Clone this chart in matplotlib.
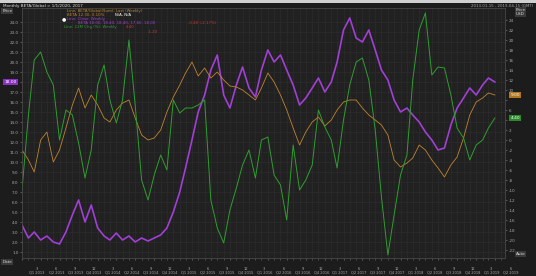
import pandas as pd
import matplotlib
matplotlib.use("Agg")
import matplotlib.pyplot as plt
import matplotlib.dates as mdates

# monthly observations, Jan 2013 .. Apr 2019
dates = pd.date_range("2013-01-01", periods=76, freq="MS")

price = [3.7, 2.4, 3.0, 2.2, 2.6, 2.0, 1.8, 3.0, 4.7, 6.2, 4.0, 5.7, 3.4, 2.6, 2.2, 2.9,
         2.2, 2.6, 2.0, 2.4, 2.1, 2.4, 2.7, 3.4, 5.0, 7.0, 9.4, 12.2, 15.0, 16.7, 19.2, 20.7,
         16.7, 15.4, 17.7, 19.5, 17.4, 16.5, 19.2, 21.2, 20.0, 20.7, 19.2, 17.7, 15.7, 16.4,
         17.4, 18.4, 17.0, 18.0, 20.0, 23.2, 24.4, 22.4, 22.0, 23.2, 21.2, 19.2, 18.2, 16.2,
         15.0, 15.4, 14.7, 14.0, 13.0, 12.2, 11.2, 11.4, 13.7, 15.4, 16.4, 17.4, 16.7, 17.7,
         18.4, 18.0]

beta_avg = [-2.0, -4.0, -6.4, 0.0, 1.6, -4.4, -2.0, 2.4, 7.0, 10.4, 6.4, 9.0, 7.0, 4.4, 3.6, 6.0,
            7.4, 8.0, 4.4, 1.0, 0.0, 0.4, 2.0, 5.6, 8.6, 11.0, 13.4, 15.6, 12.8, 14.4, 12.4, 13.6,
            12.0, 10.8, 10.6, 10.0, 9.0, 8.0, 10.4, 13.4, 11.6, 9.0, 6.0, 2.4, -1.0, 1.6, 3.6, 4.6,
            2.8, 4.0, 6.0, 7.6, 8.0, 8.0, 6.4, 5.0, 4.0, 3.0, 1.0, -4.0, -5.4, -4.6, -3.6, -1.0,
            -2.0, -4.0, -5.6, -7.4, -5.0, -3.4, 0.4, 5.0, 7.6, 8.4, 9.4, 9.0]

beta_chg = [-10.0, 5.0, 16.0, 17.6, 13.6, 11.0, 0.0, 6.0, 5.0, -0.6, -7.6, -2.0, 11.0, 15.0, 8.0, 3.4,
            8.0, 20.0, 7.0, -8.0, -12.0, -7.0, -3.0, -6.0, 8.0, 5.4, 6.4, 6.4, 7.0, 8.0, -12.0, -17.6,
            -20.6, -14.0, -9.6, -5.0, -2.0, -7.6, 0.0, 0.6, -7.0, -9.0, -16.0, -1.0, -10.0, -8.0, -5.0, 6.0,
            2.6, 0.0, -5.6, 4.0, 11.0, 15.6, 16.4, 12.0, 2.0, -11.4, -23.0, -15.0, -7.0, -3.0, 12.0, 22.0,
            25.4, 13.0, 14.6, 14.4, 9.0, 2.4, 0.4, -4.0, -1.0, 0.0, 2.4, 4.4]

PURPLE = "#a23fd6"
ORANGE = "#c0842c"
GREEN = "#2f9e2f"
BG = "#1c1c1c"
PANEL = "#212121"
GRID = "#353535"
TXT = "#a8a8a8"

fig = plt.figure(figsize=(5.36, 2.76), dpi=100, facecolor=BG)
ax = fig.add_axes([22 / 536, 18 / 276, 483 / 536, 250 / 276])
ax.set_facecolor(PANEL)
ax2 = ax.twinx()

ax.plot(dates, price, color=PURPLE, lw=1.2, zorder=3)
ax2.plot(dates, beta_avg, color=ORANGE, lw=0.6)
ax2.plot(dates, beta_chg, color=GREEN, lw=0.7)

ax.set_ylim(0.4, 25.4)
ax2.set_ylim(-23.6, 26.4)
ax.set_xlim(pd.Timestamp("2013-01-01"), pd.Timestamp("2019-05-20"))

# dense terminal-style grid
ax.xaxis.set_major_locator(mdates.MonthLocator(bymonth=[1, 4, 7, 10]))
ax.xaxis.set_minor_locator(mdates.MonthLocator())
ax.set_yticks([v + 1 for v in range(24)])
ax.grid(True, which="both", color=GRID, lw=0.4, ls=(0, (2, 1)))
ax2.grid(False)

ax.xaxis.set_major_formatter(plt.NullFormatter())
q_mid = pd.date_range("2013-02-15", periods=26, freq="3MS") + pd.Timedelta(days=14)
for d in q_mid:
    q = (d.month - 1) // 3 + 1
    ax.text(d, -0.035, f"{d.month}\nQ{q} {d.year}", transform=ax.get_xaxis_transform(),
            ha="center", va="top", fontsize=2.6, color=TXT, linespacing=0.9)

ax.tick_params(axis="both", which="both", length=1.5, color="#555555",
               labelsize=3, labelcolor=TXT, pad=1)
# the last-value tag covers the 18.0 label, as on the terminal
ax.yaxis.set_major_formatter(plt.FuncFormatter(lambda v, p: "" if abs(v - 18) < 0.5 else f"{v:.1f}"))
ax2.set_yticks([-22 + 2 * i for i in range(24)])
ax2.tick_params(axis="y", length=1.5, color="#555555", labelsize=3, labelcolor=TXT, pad=1)
ax2.yaxis.set_major_formatter(plt.FuncFormatter(
    lambda v, p: "" if abs(v - 8) < 1 or abs(v - 4) < 1 else f"{v:.0f}"))

for a in (ax, ax2):
    for s in a.spines.values():
        s.set_color("#444444")
        s.set_linewidth(0.5)

# last-value tags
def tag(axis, val, color, side):
    x = 1.0 if side == "right" else 0.0
    axis.annotate(f"{val:.2f}", xy=(x, val), xycoords=("axes fraction", "data"),
                  xytext=(4 if side == "right" else -4, 0), textcoords="offset points",
                  ha="left" if side == "right" else "right", va="center",
                  fontsize=3.2, color="white",
                  bbox=dict(boxstyle="square,pad=0.25", fc=color, ec="none"))

tag(ax, price[-1], "#8a2fc0", "left")
tag(ax2, beta_avg[-1], "#b07520", "right")
tag(ax2, beta_chg[-1], "#2a8a2a", "right")

# header bar
fig.patches.append(plt.Rectangle((0, 1 - 3 / 276), 1, 3 / 276, transform=fig.transFigure,
                                 fc="#d0d0d0", ec="none"))
fig.text(0.005, 1 - 6 / 276, "Monthly BETA/Global > 1/1/2020, 2017", fontsize=3,
         color="#dddddd", va="center")
fig.text(0.995, 1 - 6 / 276, "2013-01-15 - 2019-04-15 (GMT)", fontsize=2.8,
         color=TXT, va="center", ha="right")
fig.text(0.004, 1 - 11 / 276, "Price", fontsize=3, color="#dddddd", va="center",
         bbox=dict(boxstyle="square,pad=0.2", fc="#3a3a3a", ec="none"))
fig.text(0.962, 1 - 12 / 276, "Price\nUSD", fontsize=3, color="#dddddd", va="center",
         linespacing=0.9, bbox=dict(boxstyle="square,pad=0.2", fc="#3a3a3a", ec="none"))
fig.text(0.004, 14 / 276, "Date", fontsize=3, color="#dddddd", va="center",
         bbox=dict(boxstyle="square,pad=0.2", fc="#3a3a3a", ec="none"))
fig.text(0.962, 22 / 276, "Auto", fontsize=3, color="#dddddd", va="center",
         bbox=dict(boxstyle="square,pad=0.2", fc="#3a3a3a", ec="none"))

# legend block, top left
lx = 0.125
fig.text(lx, 1 - 12 / 276, "Line; BETA/Global(Sum); Last (Weekly)", fontsize=2.8, color=ORANGE)
fig.text(lx, 1 - 16 / 276, "BETA 12.30, 0.10%", fontsize=2.8, color=ORANGE)
fig.text(lx + 0.09, 1 - 16 / 276, "N/A, N/A", fontsize=2.8, color="white")
fig.text(lx - 0.01, 1 - 20.5 / 276, "\u25CF", fontsize=3.5, color="white")
fig.text(lx, 1 - 20 / 276, "Line; Close; Weekly", fontsize=2.8, color=PURPLE)
fig.text(lx + 0.02, 1 - 24 / 276, "BETA 18.00, 18.40, 18.40, 17.60, 18.00", fontsize=2.8, color=PURPLE)
fig.text(lx + 0.225, 1 - 24 / 276, "-0.40 (-2.17%)", fontsize=2.8, color="#d23030")
fig.text(lx - 0.005, 1 - 28 / 276, "Line; 12M Chg (%); Weekly", fontsize=2.8, color=GREEN)
fig.text(lx + 0.11, 1 - 28 / 276, "4.40", fontsize=2.8, color="#d23030")
fig.text(lx + 0.15, 1 - 33 / 276, "-1.20", fontsize=2.8, color="#d23030")

fig.savefig("out.png", dpi=100, facecolor=BG)
